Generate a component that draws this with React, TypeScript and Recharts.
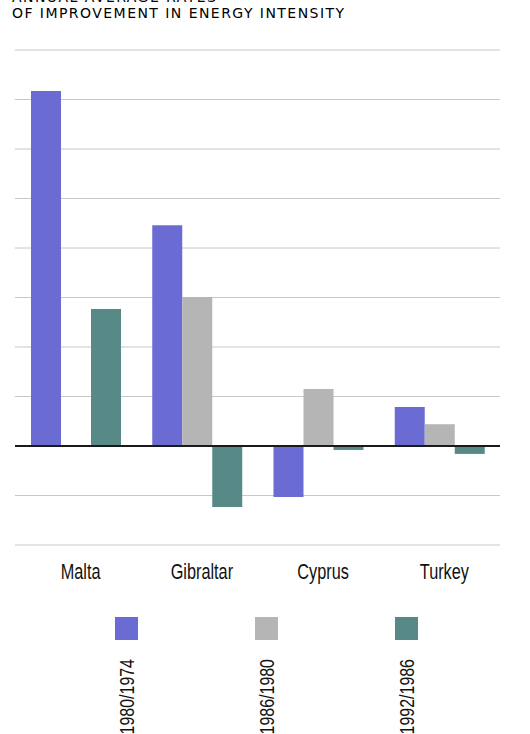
import { BarChart, Bar, XAxis, YAxis, CartesianGrid, ReferenceLine } from "recharts";

const countries = ["Malta", "Gibraltar", "Cyprus", "Turkey"];
const p1980_1974 = [7.17, 4.46, -1.03, 0.79];
const p1986_1980 = [0, 3.01, 1.15, 0.44];
const p1992_1986 = [2.77, -1.23, -0.08, -0.16];
const yTicks = [-2, -1, 0, 1, 2, 3, 4, 5, 6, 7, 8];

const series = [
  { key: "p1", name: "1980/1974", color: "#6b6bd4" },
  { key: "p2", name: "1986/1980", color: "#b5b5b5" },
  { key: "p3", name: "1992/1986", color: "#578a86" },
];

const data = countries.map((c, i) => ({
  country: c,
  p1: p1980_1974[i],
  p2: p1986_1980[i],
  p3: p1992_1986[i],
}));

const sans = "'Liberation Sans', Arial, sans-serif";

const legendX = [115, 255, 395];

// condensed look: regular sans squeezed horizontally
function CountryTick(props: any) {
  const { x, y, payload } = props;
  return (
    <g transform={`translate(${x + 5},${y})`}>
      <text
        transform="scale(0.74,1)"
        textAnchor="middle"
        y={0}
        fontFamily={sans}
        fontSize={22}
        fill="#111"
      >
        {payload.value}
      </text>
    </g>
  );
}

function LegendBox() {
  return (
    <svg width={530} height={117} style={{ position: "absolute", left: 0, top: 617 }}>
      {series.map((s, i) => (
        <g key={s.key}>
          <rect x={legendX[i]} y={0} width={23} height={23} fill={s.color} />
          <g transform={`translate(${legendX[i] + 19},${42}) rotate(-90)`}>
            <text
              transform="scale(0.76,1)"
              textAnchor="end"
              fontFamily={sans}
              fontSize={21}
              fill="#111"
            >
              {s.name}
            </text>
          </g>
        </g>
      ))}
    </svg>
  );
}

export default function App() {
  return (
    <div style={{ position: "fixed", left: 0, top: 0, width: 530, height: 734, background: "#fff", overflow: "hidden" }}>
      <div
        style={{
          position: "absolute",
          left: 12,
          top: -11,
          fontFamily: "'DejaVu Sans', sans-serif",
          fontSize: 14,
          letterSpacing: 1.45,
          lineHeight: "16px",
          color: "#000",
          zIndex: 2,
        }}
      >
        ANNUAL AVERAGE RATES
        <br />
        OF IMPROVEMENT IN ENERGY INTENSITY
      </div>
      <BarChart
        width={530}
        height={734}
        data={data}
        margin={{ top: 50, right: 30, bottom: 159, left: 15 }}
        barGap={0}
        barSize={30}
      >
        <CartesianGrid horizontal vertical={false} stroke="#c8c8c8" />
        <YAxis hide domain={[-2, 8]} ticks={yTicks} />
        <XAxis
          dataKey="country"
          axisLine={false}
          tickLine={false}
          height={30}
          tick={<CountryTick />}
          tickMargin={0}
          tickSize={34}
        />
        <ReferenceLine y={0} stroke="#1a1a1a" strokeWidth={2} />
        {series.map((s) => (
          <Bar key={s.key} dataKey={s.key} name={s.name} fill={s.color} isAnimationActive={false} />
        ))}
      </BarChart>
      <LegendBox />
    </div>
  );
}
